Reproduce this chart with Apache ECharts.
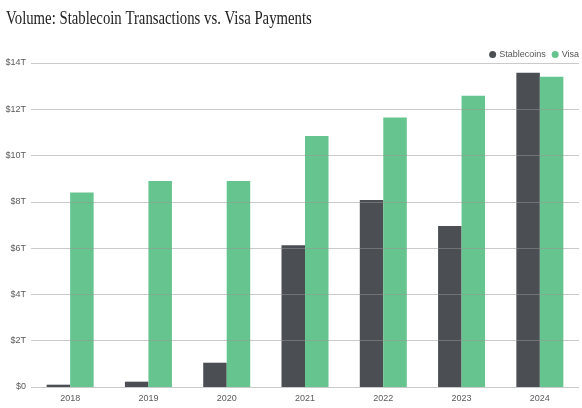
<!DOCTYPE html>
<html>
<head>
<meta charset="utf-8">
<script src="https://cdn.jsdelivr.net/npm/echarts@6/dist/echarts.min.js"></script>
<style>
  html, body { margin: 0; padding: 0; background: #fff; }
  #chart { width: 582px; height: 408px; }
</style>
</head>
<body>
<div id="chart"></div>
<script>
// data, in trillions of USD
const years = ['2018', '2019', '2020', '2021', '2022', '2023', '2024'];
const stablecoins = [0.1, 0.23, 1.05, 6.12, 8.08, 6.96, 13.58];
const visa = [8.4, 8.9, 8.9, 10.85, 11.64, 12.59, 13.41];
const titleText = 'Volume: Stablecoin Transactions vs. Visa Payments';

const chart = echarts.init(document.getElementById('chart'));

chart.setOption({
  animation: false,
  // title drawn as graphic text so it can be squeezed like the condensed serif of the original
  graphic: [
    {
      type: 'text',
      left: 6,
      top: 10,
      scaleX: 0.82,
      style: {
        text: titleText,
        font: '18px "Liberation Serif"',
        fill: '#222',
      },
    },
  ],
  legend: {
    right: -2,
    top: 45,
    itemWidth: 7,
    itemHeight: 7,
    itemGap: 6,
    icon: 'circle',
    textStyle: { fontFamily: 'Liberation Sans', fontSize: 9, color: '#555', padding: [0, 0, 0, -2] },
    data: ['Stablecoins', 'Visa'],
  },
  grid: { left: 31, right: 3, top: 63, bottom: 21 },
  xAxis: {
    type: 'category',
    data: years,
    axisLine: { show: false },
    axisTick: { show: false },
    axisLabel: { fontFamily: 'Liberation Sans', fontSize: 9, color: '#5a5a5a', margin: 7 },
  },
  yAxis: {
    type: 'value',
    min: 0,
    max: 14,
    interval: 2,
    z: 5,
    axisLabel: {
      fontFamily: 'Liberation Sans',
      fontSize: 9,
      color: '#5a5a5a',
      margin: 5,
      formatter: v => (v === 0 ? '$0' : '$' + v + 'T'),
    },
    splitLine: { lineStyle: { color: 'rgba(150,150,150,0.5)', width: 1 } },
  },
  series: [
    {
      name: 'Stablecoins',
      type: 'bar',
      data: stablecoins,
      barWidth: 23.5,
      barGap: '0%',
      itemStyle: { color: '#4b4e53' },
    },
    {
      name: 'Visa',
      type: 'bar',
      data: visa,
      barWidth: 23.5,
      itemStyle: { color: '#66c48f' },
    },
  ],
});
</script>
</body>
</html>
